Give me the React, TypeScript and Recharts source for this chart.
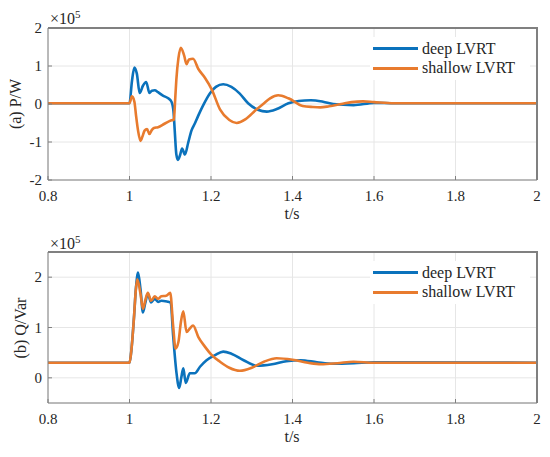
import { LineChart, Line, XAxis, YAxis, CartesianGrid } from 'recharts'

// time axis ticks (s)
const xTicks = [0.8, 1, 1.2, 1.4, 1.6, 1.8, 2]
const pTicks = [-2, -1, 0, 1, 2]
const qTicks = [0, 1, 2]

// (a) active power, x1e5 W
const tDeepP = [0.8, 1.0, 1.006, 1.012, 1.018, 1.025, 1.033, 1.041, 1.049, 1.055, 1.062, 1.07, 1.082, 1.095, 1.103, 1.108, 1.111, 1.115, 1.119, 1.124, 1.129, 1.136, 1.144, 1.152, 1.16, 1.169, 1.181, 1.198, 1.212, 1.23, 1.25, 1.27, 1.291, 1.315, 1.337, 1.36, 1.39, 1.415, 1.445, 1.475, 1.5, 1.55, 1.6, 1.65, 2.0]
const deepP = [0.02, 0.02, 0.6, 0.96, 0.8, 0.29, 0.48, 0.58, 0.29, 0.35, 0.36, 0.31, 0.22, 0.15, 0.06, -0.2, -0.7, -1.33, -1.47, -1.35, -1.17, -1.33, -1.02, -0.7, -0.52, -0.3, -0.03, 0.29, 0.45, 0.52, 0.45, 0.28, 0.02, -0.15, -0.2, -0.14, 0.02, 0.08, 0.1, 0.06, 0.0, -0.03, 0.03, 0.02, 0.02]
const tShallowP = [0.8, 1.0, 1.006, 1.012, 1.016, 1.021, 1.027, 1.032, 1.037, 1.043, 1.049, 1.055, 1.06, 1.07, 1.086, 1.103, 1.109, 1.112, 1.115, 1.12, 1.126, 1.134, 1.14, 1.146, 1.156, 1.169, 1.185, 1.202, 1.222, 1.245, 1.263, 1.285, 1.31, 1.328, 1.345, 1.365, 1.39, 1.425, 1.45, 1.468, 1.49, 1.52, 1.545, 1.573, 1.6, 1.65, 2.0]
const shallowP = [0.02, 0.02, 0.2, 0.06, -0.3, -0.7, -0.97, -0.85, -0.7, -0.66, -0.79, -0.68, -0.63, -0.61, -0.52, -0.43, -0.41, 0.1, 0.65, 1.2, 1.48, 1.28, 1.05, 1.17, 1.19, 0.92, 0.69, 0.38, -0.14, -0.42, -0.5, -0.4, -0.16, 0.0, 0.15, 0.23, 0.15, -0.05, -0.08, -0.09, -0.06, 0.0, 0.05, 0.07, 0.05, 0.02, 0.02]

// (b) reactive power, x1e5 Var
const tDeepQ = [0.8, 1.0, 1.004, 1.011, 1.016, 1.021, 1.027, 1.033, 1.039, 1.045, 1.053, 1.062, 1.07, 1.078, 1.095, 1.101, 1.107, 1.115, 1.122, 1.127, 1.132, 1.138, 1.148, 1.16, 1.173, 1.189, 1.21, 1.23, 1.25, 1.28, 1.312, 1.35, 1.385, 1.42, 1.46, 1.5, 1.55, 1.6, 2.0]
const deepQ = [0.3, 0.3, 0.5, 1.2, 1.8, 2.09, 1.76, 1.3, 1.5, 1.67, 1.5, 1.57, 1.51, 1.53, 1.51, 1.5, 0.85, 0.12, -0.2, 0.0, 0.19, -0.1, 0.09, 0.09, 0.22, 0.35, 0.45, 0.52, 0.48, 0.35, 0.24, 0.27, 0.33, 0.35, 0.31, 0.28, 0.29, 0.31, 0.3]
const tShallowQ = [0.8, 1.0, 1.004, 1.011, 1.015, 1.019, 1.027, 1.033, 1.039, 1.045, 1.053, 1.062, 1.07, 1.078, 1.09, 1.1, 1.107, 1.113, 1.12, 1.126, 1.132, 1.14, 1.148, 1.156, 1.169, 1.185, 1.202, 1.222, 1.245, 1.271, 1.3, 1.33, 1.361, 1.4, 1.438, 1.47, 1.51, 1.55, 1.6, 2.0]
const shallowQ = [0.3, 0.3, 0.5, 1.2, 1.7, 1.96, 1.67, 1.37, 1.55, 1.69, 1.53, 1.62, 1.57, 1.62, 1.63, 1.69, 1.04, 0.58, 0.71, 1.1, 1.32, 0.91, 0.98, 1.04, 0.81, 0.62, 0.45, 0.32, 0.2, 0.14, 0.2, 0.32, 0.39, 0.36, 0.3, 0.27, 0.29, 0.32, 0.3, 0.3]

const BLUE = '#0b72bc'
const ORANGE = '#e87b2e'
const AXIS = '#808080'
const GRID = '#e6e6e6'
const FONT = "'Liberation Serif', 'Times New Roman', Tinos, serif"

const toPoints = (t: number[], v: number[]) => t.map((x, i) => ({ t: x, v: v[i] }))

interface PanelProps {
  top: number
  height: number
  margin: { top: number; bottom: number }
  yDomain: [number, number]
  yTicks: number[]
  deep: { t: number; v: number }[]
  shallow: { t: number; v: number }[]
}

const LEFT = 8
const Y_W = 40
const RIGHT = 13
const X_H = 30

function Panel({ top, height, margin, yDomain, yTicks, deep, shallow }: PanelProps) {
  const tick = { fontSize: 15, fill: '#262626', fontFamily: FONT }
  // frame on top/right of the plot area, matlab box style
  const boxTop = top + margin.top
  const boxH = height - margin.top - margin.bottom - X_H
  return (
    <>
      <div style={{ position: 'absolute', left: 0, top, fontFamily: FONT }}>
        <LineChart width={550} height={height} margin={{ top: margin.top, right: RIGHT, bottom: margin.bottom, left: LEFT }}>
          <CartesianGrid stroke={GRID} />
          <XAxis
            dataKey="t"
            type="number"
            domain={[0.8, 2]}
            ticks={xTicks}
            height={X_H}
            stroke={AXIS}
            tick={tick}
            tickSize={-4}
            tickMargin={14}
          />
          <YAxis
            type="number"
            domain={yDomain}
            ticks={yTicks}
            width={Y_W}
            stroke={AXIS}
            tick={tick}
            tickSize={-4}
            tickMargin={10}
          />
          <Line data={deep} dataKey="v" type="monotone" stroke={BLUE} strokeWidth={2.6} dot={false} isAnimationActive={false} />
          <Line data={shallow} dataKey="v" type="monotone" stroke={ORANGE} strokeWidth={2.6} dot={false} isAnimationActive={false} />
        </LineChart>
      </div>
      <div
        style={{
          position: 'absolute',
          left: LEFT + Y_W,
          top: boxTop - 1,
          width: 550 - LEFT - Y_W - RIGHT + 1,
          height: boxH + 1,
          borderTop: `2px solid ${AXIS}`,
          borderRight: `2px solid ${AXIS}`,
          boxSizing: 'border-box',
          pointerEvents: 'none',
        }}
      />
    </>
  )
}

function LegendBox({ top }: { top: number }) {
  const row = (color: string, label: string) => (
    <div style={{ display: 'flex', alignItems: 'center', height: 19.4 }}>
      <div style={{ width: 45, height: 3, background: color, marginLeft: 3, marginRight: 4 }} />
      <span style={{ fontSize: 16, lineHeight: '16px', color: '#262626' }}>{label}</span>
    </div>
  )
  return (
    <div style={{ position: 'absolute', left: 370, top, width: 160, background: 'white', padding: '2px 0', fontFamily: FONT }}>
      {row(BLUE, 'deep LVRT')}
      {row(ORANGE, 'shallow LVRT')}
    </div>
  )
}

function Exponent({ top }: { top: number }) {
  return (
    <div style={{ position: 'absolute', left: 50, top, fontFamily: FONT, fontSize: 16, lineHeight: '16px', color: '#262626', whiteSpace: 'nowrap' }}>
      ×10<sup style={{ fontSize: 11, verticalAlign: 6, lineHeight: 0 }}>5</sup>
    </div>
  )
}

function AxisTitle({ x, y, text, rotate }: { x: number; y: number; text: string; rotate?: boolean }) {
  return (
    <div
      style={{
        position: 'absolute',
        left: x,
        top: y,
        transform: `translate(-50%, -50%)${rotate ? ' rotate(-90deg)' : ''}`,
        fontFamily: FONT,
        fontSize: 16,
        lineHeight: '16px',
        color: '#262626',
        whiteSpace: 'nowrap',
      }}
    >
      {text}
    </div>
  )
}

export default function App() {
  return (
    <div style={{ position: 'absolute', left: 0, top: 0, width: 550, height: 457, background: 'white', overflow: 'hidden' }}>
      <Panel
        top={0}
        height={230}
        margin={{ top: 28, bottom: 20 }}
        yDomain={[-2, 2]}
        yTicks={pTicks}
        deep={toPoints(tDeepP, deepP)}
        shallow={toPoints(tShallowP, shallowP)}
      />
      <Panel
        top={230}
        height={227}
        margin={{ top: 22, bottom: 24 }}
        yDomain={[-0.5, 2.5]}
        yTicks={qTicks}
        deep={toPoints(tDeepQ, deepQ)}
        shallow={toPoints(tShallowQ, shallowQ)}
      />
      <LegendBox top={37} />
      <LegendBox top={261} />
      <Exponent top={11} />
      <Exponent top={236} />
      <AxisTitle x={16} y={104} text="(a) P/W" rotate />
      <AxisTitle x={21} y={328} text="(b) Q/Var" rotate />
      <AxisTitle x={292} y={214} text="t/s" />
      <AxisTitle x={292} y={437} text="t/s" />
    </div>
  )
}
